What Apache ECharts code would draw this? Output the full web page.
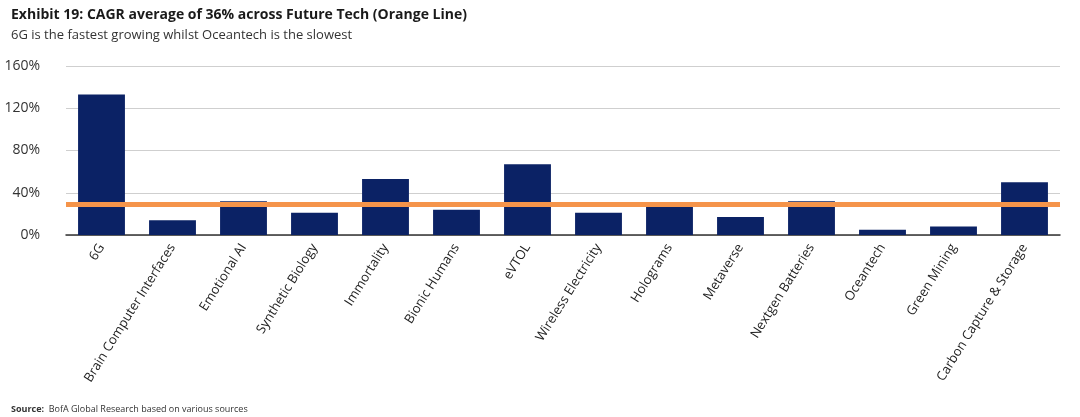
<!DOCTYPE html>
<html>
<head>
<meta charset="utf-8">
<script src="https://cdn.jsdelivr.net/npm/echarts@6/dist/echarts.min.js"></script>
<style>html,body{margin:0;padding:0;background:#fff}#c{width:1080px;height:417px}</style>
</head>
<body>
<div id="c"></div>
<script>
// 数据
var categories = ['6G', 'Brain Computer Interfaces', 'Emotional AI', 'Synthetic Biology', 'Immortality', 'Bionic Humans', 'eVTOL', 'Wireless Electricity', 'Holograms', 'Metaverse', 'Nextgen Batteries', 'Oceantech', 'Green Mining', 'Carbon Capture & Storage'];
var cagr = [133, 14, 32, 21, 53, 24, 67, 21, 27, 17, 32, 5, 8, 50];
var averageLine = 29;
var yTicks = [0, 40, 80, 120, 160];

var chart = echarts.init(document.getElementById('c'));
var font = 'Open Sans';
var option = {
    textStyle: { fontFamily: font },
    title: [{
        text: 'Exhibit 19: CAGR average of 36% across Future Tech (Orange Line)',
        left: 6, top: 3,
        textStyle: { fontSize: 14, fontWeight: 'bold', color: '#1a1a1a', fontFamily: font }
    }, {
        text: '6G is the fastest growing whilst Oceantech is the slowest',
        left: 6, top: 24,
        textStyle: { fontSize: 13, fontWeight: 'normal', color: '#333', fontFamily: font }
    }, {
        text: '{b|Source:}  BofA Global Research based on various sources',
        left: 6, top: 400,
        textStyle: { fontSize: 9, fontWeight: 'normal', color: '#333', fontFamily: font, rich: { b: { fontWeight: 'bold', fontSize: 9 } } }
    }],
    grid: { left: 66, right: 20, top: 66, bottom: 182 },
    xAxis: {
        type: 'category',
        data: categories,
        axisTick: { show: false },
        axisLine: { lineStyle: { color: '#333', width: 1.5 } },
        axisLabel: { rotate: 58, fontSize: 13, color: '#222', interval: 0, margin: 10 }
    },
    yAxis: {
        type: 'value',
        min: yTicks[0], max: yTicks[yTicks.length - 1], interval: 40,
        axisLabel: { formatter: '{value}%', fontSize: 14, color: '#333', margin: 26 },
        splitLine: { lineStyle: { color: '#cfcfcf' } }
    },
    series: [{
        type: 'bar',
        data: cagr,
        barWidth: '66%',
        itemStyle: { color: '#0b2265' },
        markLine: {
            symbol: 'none',
            silent: true,
            label: { show: false },
            lineStyle: { color: '#f5944a', width: 5, type: 'solid' },
            data: [{ yAxis: averageLine }]
        }
    }]
};
chart.setOption(option);
</script>
</body>
</html>
